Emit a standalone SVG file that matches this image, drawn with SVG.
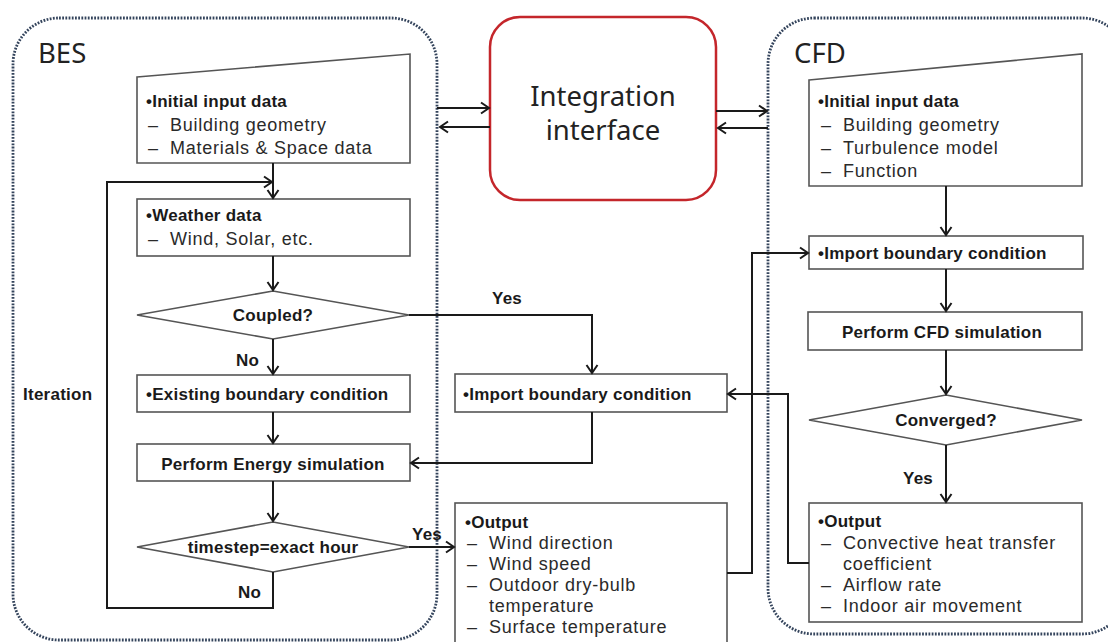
<svg xmlns="http://www.w3.org/2000/svg" width="1108" height="642" viewBox="0 0 1108 642">
<defs>
<marker id="arr" markerUnits="userSpaceOnUse" markerWidth="14" markerHeight="14" refX="10" refY="7" orient="auto">
<path d="M2,1.5 L10,7 L2,12.5" fill="none" stroke="#1a1a1a" stroke-width="2"/>
</marker>
</defs>
<style>
.cont{fill:none;stroke:#34445c;stroke-width:2.8;stroke-dasharray:1.8 1.4}
.box{fill:#fff;stroke:#555;stroke-width:1.6}
.con{fill:none;stroke:#1a1a1a;stroke-width:2}
.t{font-family:"Liberation Sans",Arial,sans-serif;font-size:18px;letter-spacing:0.75px;fill:#2a2a2a}
.b{font-family:"Liberation Sans",Arial,sans-serif;font-size:17px;letter-spacing:0.25px;font-weight:bold;fill:#1a1a1a}
.big{font-family:"Noto Sans","Open Sans",sans-serif;font-size:27.5px;fill:#222}
.c{text-anchor:middle}
</style>
<rect width="1108" height="642" fill="#fff"/>
<g id="bes-container">
<rect class="cont" x="13" y="18" width="424" height="622" rx="46"/>
<text class="big" x="38" y="63">BES</text>
</g>
<g id="cfd-container">
<rect class="cont" x="768" y="18" width="360" height="616" rx="46"/>
<text class="big" x="794" y="63">CFD</text>
</g>
<g id="integration">
<rect x="490" y="17" width="226" height="183" rx="30" fill="#fff" stroke="#c4262b" stroke-width="2.5"/>
<text class="big c" x="603" y="106">Integration</text>
<text class="big c" x="603" y="140">interface</text>
</g>
<g id="bes-input">
<path class="box" d="M137,77 L410,54 L410,163 L137,163 Z"/>
<text class="b" x="146" y="107">•Initial input data</text>
<text class="t"><tspan x="148" y="131">–</tspan><tspan x="170" y="131">Building geometry</tspan><tspan x="148" y="154">–</tspan><tspan x="170" y="154">Materials &amp; Space data</tspan></text>
</g>
<g id="bes-weather">
<rect class="box" x="137" y="199" width="273" height="57"/>
<text class="b" x="146" y="221">•Weather data</text>
<text class="t"><tspan x="148" y="245">–</tspan><tspan x="170" y="245">Wind, Solar, etc.</tspan></text>
</g>
<g id="bes-coupled">
<path class="box" d="M137,315 L273,291 L409,315 L273,339 Z"/>
<text class="b c" x="273" y="321">Coupled?</text>
</g>
<g id="bes-existing">
<rect class="box" x="137" y="375" width="273" height="37"/>
<text class="b" x="146" y="400">•Existing boundary condition</text>
</g>
<g id="bes-energy">
<rect class="box" x="137" y="444" width="273" height="37"/>
<text class="b c" x="273" y="470">Perform Energy simulation</text>
</g>
<g id="bes-timestep">
<path class="box" d="M137,547 L273,522 L409,547 L273,572 Z"/>
<text class="b c" x="273" y="553">timestep=exact hour</text>
</g>
<g id="mid-import">
<rect class="box" x="455" y="374" width="272" height="38"/>
<text class="b" x="463" y="400">•Import boundary condition</text>
</g>
<g id="mid-output">
<rect class="box" x="455" y="503" width="272" height="146"/>
<text class="b" x="465" y="528">•Output</text>
<text class="t"><tspan x="467" y="549">–</tspan><tspan x="489" y="549">Wind direction</tspan><tspan x="467" y="570">–</tspan><tspan x="489" y="570">Wind speed</tspan><tspan x="467" y="591">–</tspan><tspan x="489" y="591">Outdoor dry-bulb</tspan><tspan x="489" y="612">temperature</tspan><tspan x="467" y="633">–</tspan><tspan x="489" y="633">Surface temperature</tspan></text>
</g>
<g id="cfd-input">
<path class="box" d="M809,80 L1082,54 L1082,186 L809,186 Z"/>
<text class="b" x="818" y="107">•Initial input data</text>
<text class="t"><tspan x="821" y="131">–</tspan><tspan x="843" y="131">Building geometry</tspan><tspan x="821" y="154">–</tspan><tspan x="843" y="154">Turbulence model</tspan><tspan x="821" y="177">–</tspan><tspan x="843" y="177">Function</tspan></text>
</g>
<g id="cfd-import">
<rect class="box" x="809" y="236" width="274" height="33"/>
<text class="b" x="818" y="259">•Import boundary condition</text>
</g>
<g id="cfd-perform">
<rect class="box" x="808" y="312" width="274" height="38"/>
<text class="b c" x="942" y="338">Perform CFD simulation</text>
</g>
<g id="cfd-converged">
<path class="box" d="M809,420 L946,395 L1082,420 L946,445 Z"/>
<text class="b c" x="946" y="426">Converged?</text>
</g>
<g id="cfd-output">
<rect class="box" x="809" y="503" width="273" height="119"/>
<text class="b" x="818" y="527">•Output</text>
<text class="t"><tspan x="821" y="549">–</tspan><tspan x="843" y="549">Convective heat transfer</tspan><tspan x="843" y="570">coefficient</tspan><tspan x="821" y="591">–</tspan><tspan x="843" y="591">Airflow rate</tspan><tspan x="821" y="612">–</tspan><tspan x="843" y="612">Indoor air movement</tspan></text>
</g>
<g id="connectors">
<path class="con" d="M437,108 L489,108" marker-end="url(#arr)"/>
<path class="con" d="M490,127 L440,127" marker-end="url(#arr)"/>
<path class="con" d="M716,111 L767,111" marker-end="url(#arr)"/>
<path class="con" d="M768,128 L718,128" marker-end="url(#arr)"/>
<path class="con" d="M273,163 L273,198" marker-end="url(#arr)"/>
<path class="con" d="M273,572 L273,608 L107,608 L107,182 L272,182" marker-end="url(#arr)"/>
<path class="con" d="M273,256 L273,290" marker-end="url(#arr)"/>
<path class="con" d="M273,339 L273,374" marker-end="url(#arr)"/>
<path class="con" d="M273,412 L273,443" marker-end="url(#arr)"/>
<path class="con" d="M273,481 L273,521" marker-end="url(#arr)"/>
<path class="con" d="M409,315 L592,315 L592,373" marker-end="url(#arr)"/>
<path class="con" d="M592,412 L592,463 L411,463" marker-end="url(#arr)"/>
<path class="con" d="M409,547 L454,547" marker-end="url(#arr)"/>
<path class="con" d="M727,573 L752,573 L752,253 L808,253" marker-end="url(#arr)"/>
<path class="con" d="M809,563 L788,563 L788,394 L728,394" marker-end="url(#arr)"/>
<path class="con" d="M946,186 L946,235" marker-end="url(#arr)"/>
<path class="con" d="M946,269 L946,311" marker-end="url(#arr)"/>
<path class="con" d="M946,350 L946,394" marker-end="url(#arr)"/>
<path class="con" d="M946,445 L946,502" marker-end="url(#arr)"/>
<text class="b" x="492" y="304">Yes</text>
<text class="b" x="236" y="366">No</text>
<text class="b" x="238" y="598">No</text>
<text class="b" x="412" y="540">Yes</text>
<text class="b" x="903" y="484">Yes</text>
<text class="b" x="23" y="400">Iteration</text>
</g>
</svg>
